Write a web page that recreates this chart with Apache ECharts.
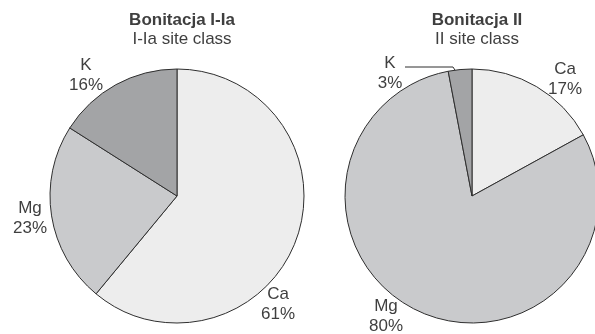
<!DOCTYPE html>
<html>
<head>
<meta charset="utf-8">
<script src="https://cdn.jsdelivr.net/npm/echarts@6/dist/echarts.min.js"></script>
<style>
html, body { margin: 0; padding: 0; background: #fff; }
#main { width: 595px; height: 334px; }
</style>
</head>
<body>
<div id="main"></div>
<script>
var categories = ['Ca', 'Mg', 'K'];
var values_I = [61, 23, 16];
var values_II = [17, 80, 3];
var titles = ['Bonitacja I-Ia', 'Bonitacja II'];
var subtitles = ['I-Ia site class', 'II site class'];

var colors = ['#ededed', '#c9cacc', '#a3a4a6'];
var textColor = '#3f3f3f';
var font = 'Liberation Sans, Arial, sans-serif';

// label block centres (x, y) for each slice
var labelPos_I = [[278, 304], [30, 218], [86, 75]];
var labelPos_II = [[565, 79], [386, 316], [390, 73]];

function buildData(values, withLine) {
	var data = [];
	for (var i = 0; i < categories.length; i++) {
		var item = {
			name: categories[i],
			value: values[i],
			itemStyle: { color: colors[i] }
		};
		if (withLine && categories[i] == 'K') {
			// only this one keeps a leader line
			item.label = { position: 'outside' };
			item.labelLine = { show: true };
		}
		data.push(item);
	}
	return data;
}

function buildSeries(values, center, pos, withLine) {
	return {
		type: 'pie',
		center: center,
		radius: 127,
		startAngle: 90,
		clockwise: true,
		silent: true,
		itemStyle: { borderColor: '#2e2e2e', borderWidth: 1 },
		label: {
			show: true,
			position: 'inside',
			formatter: '{b}\n{c}%',
			color: textColor,
			fontFamily: font,
			fontSize: 17,
			lineHeight: 20,
			overflow: 'none'
		},
		labelLine: {
			show: false,
			lineStyle: { color: '#2e2e2e', width: 1 }
		},
		labelLayout: function (params) {
			var p = pos[params.dataIndex];
			var res = { x: p[0], y: p[1], align: 'center', verticalAlign: 'middle' };
			if (withLine && params.dataIndex == 2) {
				res.labelLinePoints = [[405, 67], [453, 67], [460, 78]];
			}
			return res;
		},
		data: buildData(values, withLine)
	};
}

var chart = echarts.init(document.getElementById('main'));
var option = {
	animation: false,
	title: [
		{
			text: titles[0], subtext: subtitles[0],
			left: 177, top: 7, textAlign: 'center', itemGap: 2,
			textStyle: { fontFamily: font, fontSize: 17, fontWeight: 'bold', color: textColor },
			subtextStyle: { fontFamily: font, fontSize: 17, color: textColor }
		},
		{
			text: titles[1], subtext: subtitles[1],
			left: 472, top: 7, textAlign: 'center', itemGap: 2,
			textStyle: { fontFamily: font, fontSize: 17, fontWeight: 'bold', color: textColor },
			subtextStyle: { fontFamily: font, fontSize: 17, color: textColor }
		}
	],
	series: [
		buildSeries(values_I, [177, 196], labelPos_I, false),
		buildSeries(values_II, [472, 196], labelPos_II, true)
	]
};
chart.setOption(option);
</script>
</body>
</html>
